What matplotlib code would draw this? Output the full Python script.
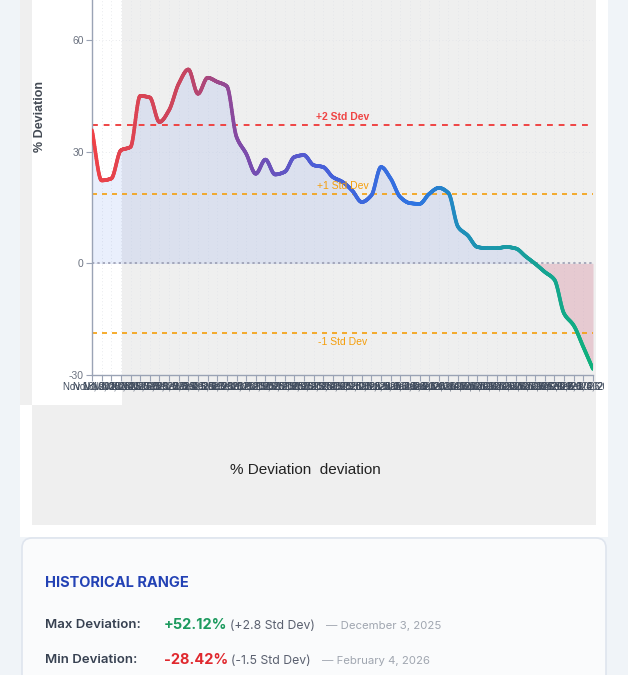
import numpy as np
import matplotlib
matplotlib.use("Agg")
import matplotlib.pyplot as plt
from matplotlib.collections import LineCollection
from matplotlib.patches import Rectangle, FancyBboxPatch
from matplotlib.colors import LinearSegmentedColormap
from matplotlib.transforms import IdentityTransform, Bbox

# --- data ---
dates = [
    "Nov 18, 2025", "Nov 19, 2025", "Nov 20, 2025", "Nov 21, 2025", "Nov 24, 2025",
    "Nov 25, 2025", "Nov 26, 2025", "Nov 28, 2025",
    "Dec 1, 2025", "Dec 2, 2025", "Dec 3, 2025", "Dec 4, 2025", "Dec 5, 2025",
    "Dec 8, 2025", "Dec 9, 2025", "Dec 10, 2025", "Dec 11, 2025", "Dec 12, 2025",
    "Dec 15, 2025", "Dec 16, 2025", "Dec 17, 2025", "Dec 18, 2025", "Dec 19, 2025",
    "Dec 22, 2025", "Dec 23, 2025", "Dec 24, 2025", "Dec 26, 2025", "Dec 29, 2025",
    "Dec 30, 2025", "Dec 31, 2025",
    "Jan 2, 2026", "Jan 5, 2026", "Jan 6, 2026", "Jan 7, 2026", "Jan 8, 2026",
    "Jan 9, 2026", "Jan 12, 2026", "Jan 13, 2026", "Jan 14, 2026", "Jan 15, 2026",
    "Jan 16, 2026", "Jan 20, 2026", "Jan 21, 2026", "Jan 22, 2026", "Jan 23, 2026",
    "Jan 26, 2026", "Jan 27, 2026", "Jan 28, 2026", "Jan 29, 2026", "Jan 30, 2026",
    "Feb 2, 2026", "Feb 3, 2026", "Feb 4, 2026",
]
deviation = [
    35.8, 22.3, 22.8, 30.4, 31.3, 45.0, 44.6, 38.0, 41.2, 48.3,
    52.12, 45.6, 49.9, 48.8, 47.6, 34.0, 29.5, 24.1, 27.9, 23.9,
    24.6, 28.6, 29.1, 26.4, 25.9, 23.2, 21.9, 19.6, 16.5, 18.3,
    25.9, 22.8, 17.8, 16.2, 16.0, 18.7, 20.3, 18.9, 9.8, 7.5,
    4.4, 4.1, 4.1, 4.4, 4.0, 1.9, -0.1, -2.3, -4.4, -13.5,
    -16.7, -22.5, -28.42,
]
std_dev = 18.6
y_ticks = [-30, 0, 30, 60]

W, H = 628, 675
fig = plt.figure(figsize=(W / 100, H / 100), dpi=100)
fig.patch.set_facecolor("#f0f4f8")


def px_rect(x, y, w, h, color, z=-10):
    # rectangle in pixel coordinates measured from the top-left corner
    r = Rectangle((x, H - y - h), w, h, transform=IdentityTransform(),
                  facecolor=color, edgecolor="none", zorder=z)
    fig.add_artist(r)


# page panels behind the chart
px_rect(20, 0, 588, 537, "white")
px_rect(20, 0, 12, 405, "#efefef")
px_rect(122, 0, 474, 405, "#efefef")
px_rect(32, 405, 564, 120, "#efefef")

# stats card
card = FancyBboxPatch((22, -20), 584, H - 538 + 20, boxstyle="round,pad=0,rounding_size=10",
                      transform=IdentityTransform(), facecolor="#fafbfc",
                      edgecolor="#dfe5ee", linewidth=1.2, zorder=-9)
fig.add_artist(card)

# --- chart ---
ax = fig.add_axes([92 / W, 1 - 375 / H, 501 / W, 375 / H])
ax.patch.set_alpha(0)

x = np.arange(len(deviation), dtype=float)
y = np.array(deviation)


def monotone(xp, yp, xs):
    h = np.diff(xp)
    d = np.diff(yp) / h
    m = np.zeros_like(yp)
    m[0], m[-1] = d[0], d[-1]
    for k in range(1, len(yp) - 1):
        if d[k - 1] * d[k] > 0:
            w1 = 2 * h[k] + h[k - 1]
            w2 = h[k] + 2 * h[k - 1]
            m[k] = (w1 + w2) / (w1 / d[k - 1] + w2 / d[k])
    idx = np.clip(np.searchsorted(xp, xs) - 1, 0, len(xp) - 2)
    t = (xs - xp[idx]) / h[idx]
    h00 = 2 * t**3 - 3 * t**2 + 1
    h10 = t**3 - 2 * t**2 + t
    h01 = -2 * t**3 + 3 * t**2
    h11 = t**3 - t**2
    return h00 * yp[idx] + h10 * h[idx] * m[idx] + h01 * yp[idx + 1] + h11 * h[idx] * m[idx + 1]


xs = np.linspace(0, x[-1], 1500)
ys = monotone(x, y, xs)

ax.fill_between(xs, ys, 0, where=ys >= 0, interpolate=True,
                color="#3b6fe8", alpha=0.11, linewidth=0, zorder=1)
ax.fill_between(xs, ys, 0, where=ys <= 0, interpolate=True,
                color="#c2385c", alpha=0.2, linewidth=0, zorder=1)

grad = LinearSegmentedColormap.from_list("dev", [
    (0.0, "#ee4248"), (0.18, "#c9455e"), (0.3, "#7e4aaa"),
    (0.45, "#4a5ed8"), (0.65, "#2e74e2"), (0.74, "#1f8fba"), (1.0, "#10b07c")])
pts = np.column_stack([xs, ys]).reshape(-1, 1, 2)
segs = np.concatenate([pts[:-1], pts[1:]], axis=1)
lc = LineCollection(segs, colors=grad(xs[:-1] / x[-1]), linewidth=2.6,
                    capstyle="round", joinstyle="round", zorder=4)
ax.add_collection(lc)

# reference lines
ax.axhline(2 * std_dev, color="#ef4444", ls=(0, (3, 3)), lw=1.4, zorder=2)
ax.axhline(std_dev, color="#f59e0b", ls=(0, (3, 3)), lw=1.2, zorder=2)
ax.axhline(-std_dev, color="#f59e0b", ls=(0, (3, 3)), lw=1.2, zorder=2)
ax.axhline(0, color="#9497ad", ls=(0, (1.5, 2)), lw=1.1, zorder=2)

mid = x[-1] / 2
ax.annotate("+2 Std Dev", (mid, 2 * std_dev), xytext=(0, 6), textcoords="offset points",
            ha="center", va="center", color="#ef4444", fontsize=7.5, fontweight="bold",
            family="Liberation Sans", zorder=5)
ax.annotate("+1 Std Dev", (mid, std_dev), xytext=(0, 6), textcoords="offset points",
            ha="center", va="center", color="#f59e0b", fontsize=7.5,
            family="Liberation Sans", zorder=5)
ax.annotate("-1 Std Dev", (mid, -std_dev), xytext=(0, -6.5), textcoords="offset points",
            ha="center", va="center", color="#f59e0b", fontsize=7.5,
            family="Liberation Sans", zorder=5)

ax.set_xlim(0, x[-1])
ax.set_ylim(-30, 70.8)
ax.set_yticks(y_ticks)
ax.set_yticklabels([str(v) for v in y_ticks], family="Liberation Sans")
ax.set_xticks(x)
ax.set_xticklabels(dates, family="Liberation Sans")
ax.tick_params(axis="y", length=4, width=0.8, color="#9aa3b5", labelcolor="#6b7280",
               labelsize=7.5, pad=2)
ax.tick_params(axis="x", length=4.5, width=0.8, color="#9aa3b5", labelcolor="#3e4a5c",
               labelsize=7, pad=0.5)
ax.grid(True, color="#e2e4e8", ls=(0, (1, 3)), lw=0.6)
ax.set_axisbelow(True)
for side in ["top", "right"]:
    ax.spines[side].set_visible(False)
for side in ["left", "bottom"]:
    ax.spines[side].set_color("#9aa3b5")
    ax.spines[side].set_linewidth(1.0)

# the canvas cuts the crowded date labels at its right edge
clip = Bbox([[0, 0], [604, H]])
for lbl in ax.get_xticklabels():
    lbl.set_clip_box(clip)
    lbl.set_clip_on(True)

fig.text(40 / W, 1 - 117 / H, "% Deviation", rotation=90, ha="center", va="center",
         fontsize=9, fontweight="bold", color="#444b55", family="Liberation Sans")
fig.text(305 / W, 1 - 470 / H, "% Deviation  deviation", ha="center", va="center",
         fontsize=11, color="#222222", family="Liberation Sans")

# --- historical range card ---
def card_text(px, py, s, **kw):
    fig.text(px / W, 1 - py / H, s, ha="left", va="center", family="Inter", **kw)


card_text(45, 583, "HISTORICAL RANGE", fontsize=10.5, fontweight="bold", color="#2342b5")
card_text(45, 625, "Max Deviation:", fontsize=9.5, fontweight="semibold", color="#374151")
card_text(164, 625, "+52.12%", fontsize=10.5, fontweight="bold", color="#1c9a5e")
card_text(230, 626, "(+2.8 Std Dev)", fontsize=8.8, color="#5b6170")
card_text(326, 626, "\u2014 December 3, 2025", fontsize=8.2, color="#a0a6b0")
card_text(45, 660, "Min Deviation:", fontsize=9.5, fontweight="semibold", color="#374151")
card_text(164, 660, "-28.42%", fontsize=10.5, fontweight="bold", color="#e0282e")
card_text(231, 661, "(-1.5 Std Dev)", fontsize=8.8, color="#5b6170")
card_text(322, 661, "\u2014 February 4, 2026", fontsize=8.2, color="#a0a6b0")

fig.savefig("out.png", dpi=100)
